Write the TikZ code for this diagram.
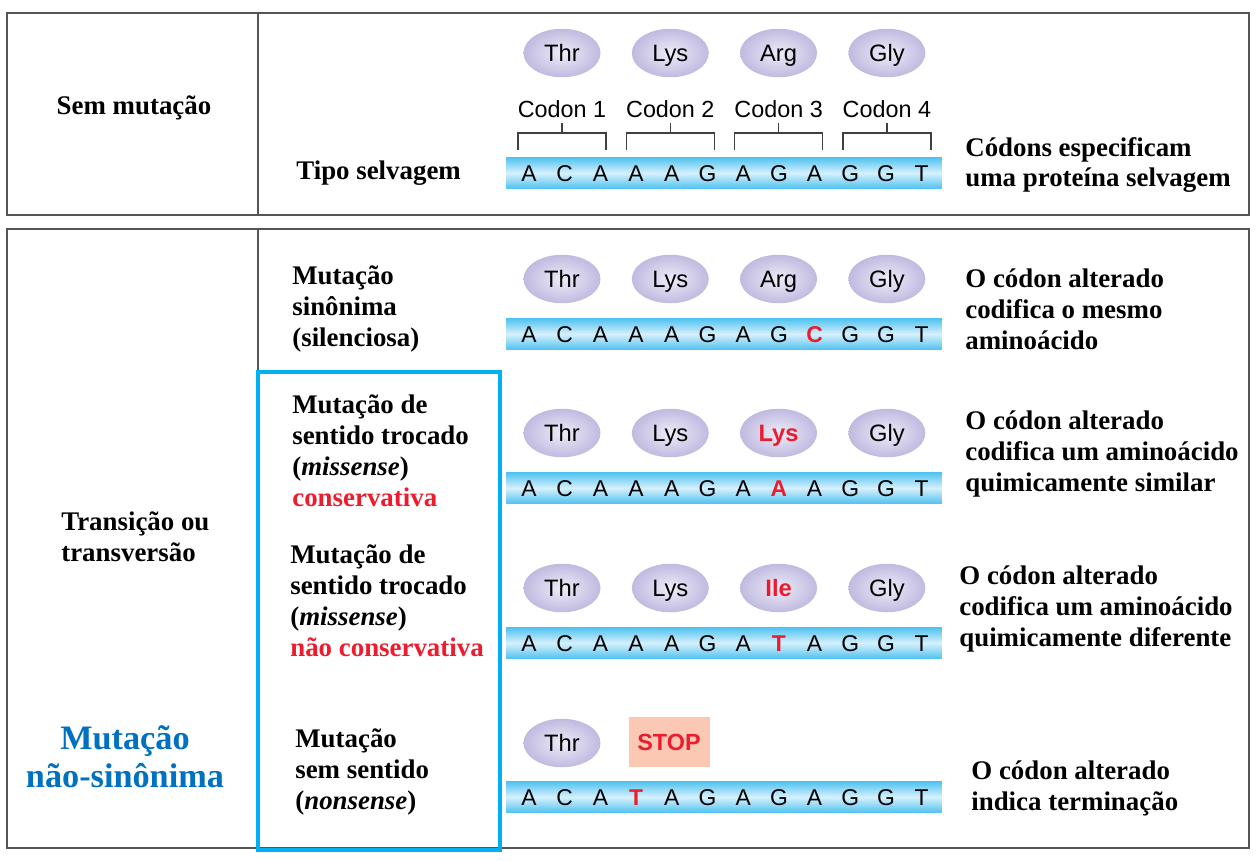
\documentclass[tikz,border=0pt]{standalone}
\usepackage{fontspec}
\setmainfont{Liberation Serif}
\setsansfont{Liberation Sans}
\usepackage{tikz}
\usetikzlibrary{shapes.geometric,calc}
\definecolor{gridgray}{RGB}{85,85,85}
\definecolor{boxcyan}{RGB}{0,176,240}
\definecolor{mutred}{RGB}{236,28,46}
\definecolor{headblue}{RGB}{0,112,192}
\definecolor{dnablue}{RGB}{80,195,240}
\definecolor{dnalight}{RGB}{215,240,252}
\definecolor{aminoin}{RGB}{238,236,248}
\definecolor{aminoout}{RGB}{192,186,224}
\definecolor{stoppink}{RGB}{251,200,180}
\newcommand{\R}[1]{\textcolor{mutred}{#1}}

\begin{document}
\begin{tikzpicture}[
  x=0.02cm, y=-0.02cm,
  grid/.style={draw=gridgray, line width=1.3pt},
  lbl/.style={font=\bfseries\fontsize{15.3}{17.6}\selectfont, align=left, anchor=west, inner sep=0pt},
  amino/.style={ellipse, minimum width=1.54cm, minimum height=0.97cm, inner sep=0pt,
                text height=11.4pt, text depth=1.8pt,
                inner color=aminoin, outer color=aminoout, font=\sffamily\fontsize{13.5}{13.5}\selectfont},
  base/.style={font=\sffamily\fontsize{13}{13}\selectfont, inner sep=0pt},
  bar/.style={minimum width=8.72cm, minimum height=0.62cm, inner sep=0pt,
              top color=dnablue, bottom color=dnablue, middle color=dnalight},
  codon/.style={font=\sffamily\fontsize{13.3}{13.3}\selectfont, inner sep=0pt},
  brk/.style={draw=black!75, line width=0.8pt},
  stopbox/.style={fill=stoppink, minimum width=1.62cm, minimum height=1cm, inner sep=0pt,
                  text=mutred, font=\sffamily\bfseries\fontsize{13.3}{13.3}\selectfont}
]
\useasboundingbox (0,0) rectangle (1260,860);

% tables
\draw[grid] (7,13) rectangle (1249,215);
\draw[grid] (258,13) -- (258,215);
\draw[grid] (7,229) rectangle (1249,848);
\draw[grid] (258,229) -- (258,848);

% left column
\node[lbl, anchor=center] (semmut) at (134,108) {Sem mutação};
\node[lbl] (trans) at (61,537) {Transição ou\\transversão};
\node[lbl, anchor=center, align=center, text=headblue, font=\bfseries\fontsize{19.5}{21.6}\selectfont] (nonsyn) at (125,757) {Mutação\\não-sinônima};

% wild type
\node[lbl] (tipo) at (296,173) {Tipo selvagem};
\foreach \a [count=\i] in {Thr,Lys,Arg,Gly}
  \node[amino] (wa\i) at ({562+108.3*(\i-1)},53) {\a};
\foreach \c in {1,...,4} {
  \node[codon] (cod\c) at ({562+108.3*(\c-1)},109) {Codon \c};
  \draw[brk] ({562+108.3*(\c-1)},123) -- ++(0,10)
             ({562+108.3*(\c-1)-44},150) |- ({562+108.3*(\c-1)+44},133) -- ++(0,17);
}
\node[bar] (wbar) at (724,173) {};
\foreach \b [count=\i] in {A,C,A,A,A,G,A,G,A,G,G,T}
  \node[base] (w\i) at ({529+35.7*(\i-1)},174) {\b};
\node[lbl] (wdesc) at (965,165) {Códons especificam\\uma proteína selvagem};

% synonymous
\node[lbl] (slbl) at (292,309) {Mutação\\sinônima\\(silenciosa)};
\foreach \a [count=\i] in {Thr,Lys,Arg,Gly}
  \node[amino] (sa\i) at ({562+108.3*(\i-1)},279) {\a};
\node[bar] (sbar) at (724,334) {};
\foreach \b [count=\i] in {A,C,A,A,A,G,A,G,\R{\bfseries C},G,G,T}
  \node[base] (s\i) at ({529+35.7*(\i-1)},335) {\b};
\node[lbl] (sdesc) at (965,309) {O códon alterado\\codifica o mesmo\\aminoácido};

% missense, conservative
\node[lbl] (clbl) at (292,451) {Mutação de\\sentido trocado\\(\textit{missense})\\\R{conservativa}};
\foreach \a [count=\i] in {Thr,Lys,\R{\bfseries Lys},Gly}
  \node[amino] (ca\i) at ({562+108.3*(\i-1)},433) {\a};
\node[bar] (cbar) at (724,488) {};
\foreach \b [count=\i] in {A,C,A,A,A,G,A,\R{\bfseries A},A,G,G,T}
  \node[base] (c\i) at ({529+35.7*(\i-1)},489) {\b};
\node[lbl] (cdesc) at (965,454) {O códon alterado\\codifica um aminoácido\\quimicamente similar};

% missense, non-conservative
\node[lbl] (nlbl) at (290,601) {Mutação de\\sentido trocado\\(\textit{missense})\\\R{não conservativa}};
\foreach \a [count=\i] in {Thr,Lys,\R{\bfseries Ile},Gly}
  \node[amino] (na\i) at ({562+108.3*(\i-1)},588) {\a};
\node[bar] (nbar) at (724,643) {};
\foreach \b [count=\i] in {A,C,A,A,A,G,A,\R{\bfseries T},A,G,G,T}
  \node[base] (n\i) at ({529+35.7*(\i-1)},644) {\b};
\node[lbl] (ndesc) at (959,609) {O códon alterado\\codifica um aminoácido\\quimicamente diferente};

% nonsense
\node[lbl] (xlbl) at (295,772) {Mutação\\sem sentido\\(\textit{nonsense})};
\node[amino] (xa1) at (562,743) {Thr};
\node[stopbox] (xstop) at (669,742) {STOP};
\node[bar] (xbar) at (724,797) {};
\foreach \b [count=\i] in {A,C,A,\R{\bfseries T},A,G,A,G,A,G,G,T}
  \node[base] (x\i) at ({529+35.7*(\i-1)},798) {\b};
\node[lbl] (xdesc) at (971,788) {O códon alterado\\indica terminação};

% highlight frame
\draw[boxcyan, line width=2.8pt] (258,372) rectangle (500,850);
\end{tikzpicture}
\end{document}
